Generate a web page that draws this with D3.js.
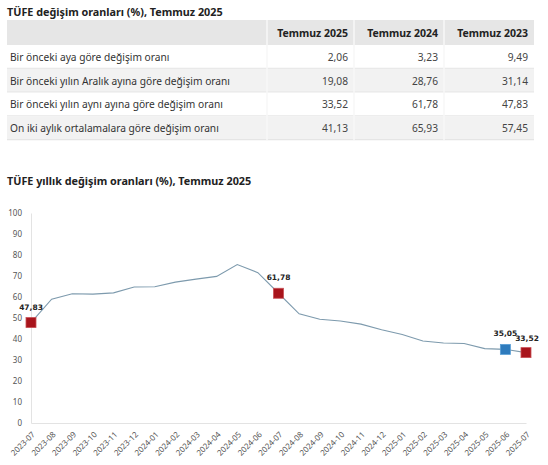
<!DOCTYPE html>
<html lang="tr">
<head>
<meta charset="UTF-8">
<title>TÜFE değişim oranları</title>
<script src="https://cdn.jsdelivr.net/npm/d3@7"></script>
<style>
    html, body { margin: 0; padding: 0; background: #fff; }
    svg { display: block; font-family: "Noto Sans", "Open Sans", sans-serif; }
</style>
</head>
<body>
<div id="app"></div>
<script>
    // table data
    const columns = ["Temmuz 2025", "Temmuz 2024", "Temmuz 2023"];
    const rowLabels = [
        "Bir önceki aya göre değişim oranı",
        "Bir önceki yılın Aralık ayına göre değişim oranı",
        "Bir önceki yılın aynı ayına göre değişim oranı",
        "On iki aylık ortalamalara göre değişim oranı"
    ];
    const tableValues = [
        ["2,06", "3,23", "9,49"],
        ["19,08", "28,76", "31,14"],
        ["33,52", "61,78", "47,83"],
        ["41,13", "65,93", "57,45"]
    ];

    // line chart data
    const months = ["2023-07", "2023-08", "2023-09", "2023-10", "2023-11", "2023-12",
        "2024-01", "2024-02", "2024-03", "2024-04", "2024-05", "2024-06",
        "2024-07", "2024-08", "2024-09", "2024-10", "2024-11", "2024-12",
        "2025-01", "2025-02", "2025-03", "2025-04", "2025-05", "2025-06", "2025-07"];
    const yearly = [47.83, 58.94, 61.53, 61.36, 61.98, 64.77,
        64.86, 67.07, 68.50, 69.80, 75.45, 71.60,
        61.78, 51.97, 49.38, 48.58, 47.09, 44.38,
        42.12, 39.05, 38.10, 37.86, 35.41, 35.05, 33.52];
    const highlighted = ["2023-07", "2024-07", "2025-06", "2025-07"];
    const yTicks = [0, 10, 20, 30, 40, 50, 60, 70, 80, 90, 100];

    const W = 548, H = 465;
    const svg = d3.select("#app").append("svg").attr("width", W).attr("height", H);

    // ---- table ----
    svg.append("text").attr("x", 7).attr("y", 16)
        .style("font-size", "10.8px").style("font-weight", "700").attr("fill", "#222")
        .text("TÜFE değişim oranları (%), Temmuz 2025");

    const colEdges = [7, 267, 354, 444, 534];
    const headTop = 20, headH = 25, rowH = 23.8;

    svg.append("rect").attr("x", colEdges[0]).attr("y", headTop)
        .attr("width", colEdges[4] - colEdges[0]).attr("height", headH).attr("fill", "#e6e6e6");

    svg.selectAll("text.head").data(columns).enter().append("text")
        .attr("class", "head")
        .attr("x", (d, i) => colEdges[i + 2] - 6)
        .attr("y", headTop + headH / 2 + 4)
        .attr("text-anchor", "end")
        .style("font-size", "10.5px").style("font-weight", "700").attr("fill", "#222")
        .text(d => d);

    const rows = svg.selectAll("g.trow").data(rowLabels).enter().append("g")
        .attr("class", "trow")
        .attr("transform", (d, i) => "translate(0," + (headTop + headH + i * rowH) + ")");

    rows.append("rect").attr("x", colEdges[0]).attr("y", 0)
        .attr("width", colEdges[4] - colEdges[0]).attr("height", rowH)
        .attr("fill", (d, i) => i % 2 ? "#f2f2f2" : "#fff");

    rows.append("line").attr("x1", colEdges[0]).attr("x2", colEdges[4])
        .attr("y1", rowH - 0.5).attr("y2", rowH - 0.5).attr("stroke", "#e2e2e2");

    rows.append("text").attr("x", 10).attr("y", rowH / 2 + 4)
        .style("font-size", "10.2px").attr("fill", "#333")
        .text(d => d);

    rows.each(function (d, r) {
        d3.select(this).selectAll("text.val").data(tableValues[r]).enter().append("text")
            .attr("class", "val")
            .attr("x", (v, i) => colEdges[i + 2] - 6)
            .attr("y", rowH / 2 + 4)
            .attr("text-anchor", "end")
            .style("font-size", "10.2px").attr("fill", "#444")
            .text(v => v);
    });

    // column separators
    svg.selectAll("line.csep").data(colEdges.slice(1, 4)).enter().append("line")
        .attr("class", "csep")
        .attr("x1", d => d).attr("x2", d => d)
        .attr("y1", headTop).attr("y2", headTop + headH + 4 * rowH)
        .attr("stroke", "#f7f7f7").attr("stroke-width", 1.5);

    // ---- line chart ----
    svg.append("text").attr("x", 7).attr("y", 185)
        .style("font-size", "10.8px").style("font-weight", "700").attr("fill", "#222")
        .text("TÜFE yıllık değişim oranları (%), Temmuz 2025");

    const x = d3.scalePoint().domain(months).range([31, 526]);
    const y = d3.scaleLinear().domain([0, 100]).range([423, 213]);

    const yAxis = svg.append("g").attr("transform", "translate(31,0)")
        .call(d3.axisLeft(y).tickValues(yTicks).tickSize(0).tickPadding(9));
    yAxis.select(".domain").attr("stroke", "#e3e3e3");
    yAxis.selectAll("text").style("font-size", "8px").attr("fill", "#555")
        .style("font-family", "'Noto Sans', sans-serif");

    const xAxis = svg.append("g").attr("transform", "translate(0,423)")
        .call(d3.axisBottom(x).tickSize(0).tickPadding(0));
    xAxis.select(".domain").attr("stroke", "#e3e3e3");
    xAxis.selectAll("text")
        .style("font-size", "8px").attr("fill", "#555")
        .style("font-family", "'Noto Sans', sans-serif")
        .attr("text-anchor", "end")
        .attr("dy", null)
        .attr("transform", "translate(4,12) rotate(-45)");

    const line = d3.line().x((d, i) => x(months[i])).y(d => y(d));
    svg.append("path").datum(yearly).attr("d", line)
        .attr("fill", "none").attr("stroke", "#7d9aad").attr("stroke-width", 1.1);

    const pts = months.map((m, i) => ({ m: m, v: yearly[i] }))
        .filter(d => highlighted.includes(d.m));

    svg.selectAll("rect.mk").data(pts).enter().append("rect")
        .attr("class", "mk")
        .attr("x", d => x(d.m) - 5).attr("y", d => y(d.v) - 5)
        .attr("width", 10).attr("height", 10)
        .attr("fill", d => d.m === "2025-06" ? "#2e7bbd" : "#a8141c")
        .attr("stroke", d => d.m === "2025-06" ? "#5a9fd6" : "#c95056")
        .attr("stroke-width", 0.8);

    svg.selectAll("text.lbl").data(pts).enter().append("text")
        .attr("class", "lbl")
        .attr("x", d => x(d.m) + (d.m === "2025-07" ? 1 : 0))
        .attr("y", d => y(d.v) - (d.m === "2025-07" ? 12 : 13))
        .attr("text-anchor", "middle")
        .style("font-size", "7.5px").style("font-weight", "700").attr("fill", "#222")
        .style("font-family", "'DejaVu Sans', sans-serif")
        .text(d => d3.format(".2f")(d.v).replace(".", ","));
</script>
</body>
</html>
